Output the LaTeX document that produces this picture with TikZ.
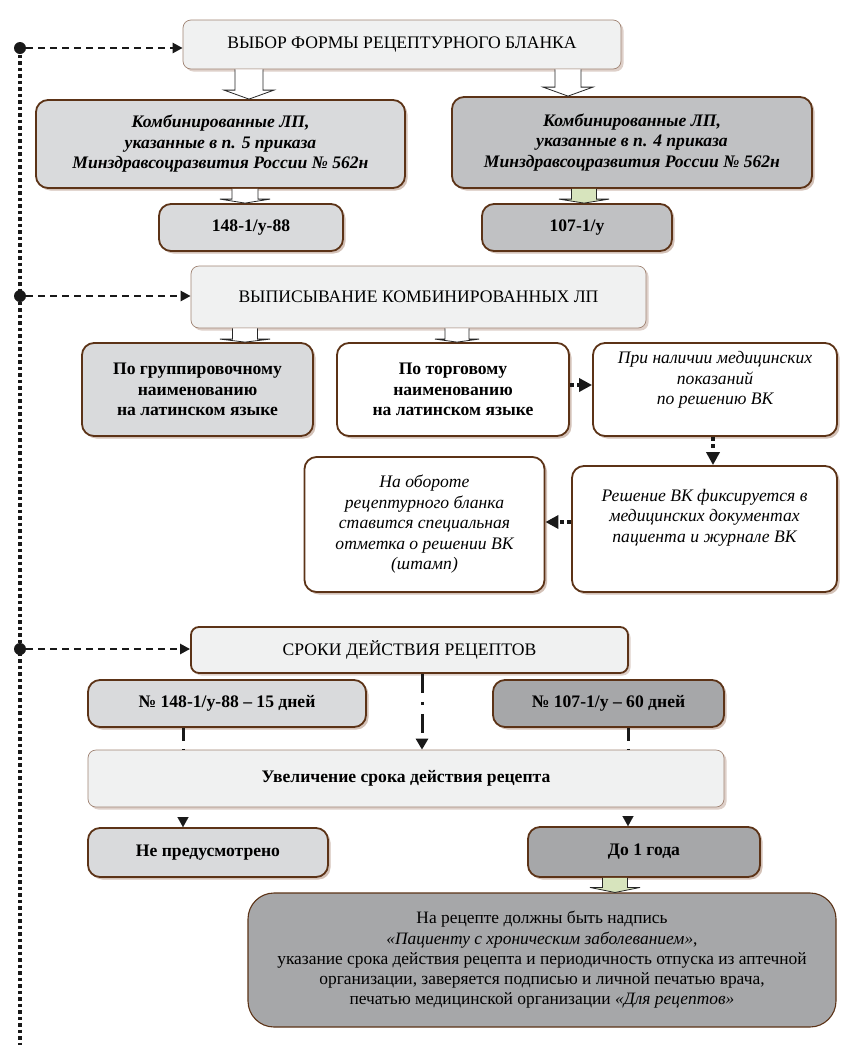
\documentclass[tikz,border=0pt]{standalone}
\usepackage{fontspec}
\setmainfont{Liberation Serif}
\usetikzlibrary{arrows.meta,shadows,calc}
\definecolor{brd}{HTML}{5C3317}
\definecolor{brdl}{HTML}{A08474}
\definecolor{hfill}{HTML}{F0F1F1}
\definecolor{lg}{HTML}{D9DADC}
\definecolor{mg}{HTML}{C0C1C3}
\definecolor{dg}{HTML}{A6A7A9}
\definecolor{grn}{HTML}{D7E4BD}
\definecolor{shd}{HTML}{C9B2A6}
\newcommand\blockarr[7]{%
  \draw[blockline, fill=#4] let \p1=(#2), \p2=(#3) in
    ({(#1-#5)*1pt},\y1) -- ({(#1-#5)*1pt},{\y2+#7pt}) -- ({(#1-#6)*1pt},{\y2+#7pt})
    -- ({#1*1pt},\y2) -- ({(#1+#6)*1pt},{\y2+#7pt}) -- ({(#1+#5)*1pt},{\y2+#7pt})
    -- ({(#1+#5)*1pt},\y1);}
\tikzset{
  base/.style={align=center, inner sep=0pt, font=\fontsize{17.6}{20.5}\selectfont},
  mainbox/.style={base, draw=brd, line width=1.8pt, rounded corners=12pt,
     drop shadow={shadow xshift=2.5pt, shadow yshift=-2.5pt, fill=shd, opacity=0.8}},
  headbox/.style={base, draw=brdl, line width=0.7pt, fill=hfill, rounded corners=8pt,
     font=\fontsize{17.6}{20}\selectfont,
     drop shadow={shadow xshift=2.5pt, shadow yshift=-2.5pt, fill=shd, opacity=0.6}},
  blockline/.style={draw=black!85, line width=0.8pt, line join=miter},
  dotline/.style={line width=3.5pt, dash pattern=on 3.5pt off 3pt, black!90},
  dashline/.style={line width=2.4pt, dash pattern=on 7pt off 5pt, black!90,
     -{Triangle[length=10pt,width=10pt]}},
  bigdot/.style={circle, fill=black!90, inner sep=0pt, minimum size=12pt},
  dotarr/.style={line width=4pt, dash pattern=on 4pt off 3.5pt, black!90,
     -{Triangle[length=13pt,width=13pt]}},
  dasharr/.style={line width=3pt, dash pattern=on 19pt off 9pt on 3pt off 9pt, black!90},
  tipdown/.style={black!90, line width=0.1pt, -{Triangle[length=10pt,width=11pt]}},
}
\begin{document}
\begin{tikzpicture}[x=1pt,y=-1pt]
\useasboundingbox[fill=white] (0,0) rectangle (866,1058);

% left dotted rail
\coordinate (railtop) at (20,48);
\coordinate (railbot) at (20,1045);
\draw[dotline] (railtop) -- (railbot);
\node[bigdot] (d1) at (20,48) {};
\node[bigdot] (d2) at (20,296) {};
\node[bigdot] (d3) at (20,649) {};

% section 1
\node[headbox, minimum width=438pt, minimum height=49pt] (h1) at (402,44.5)
  {ВЫБОР ФОРМЫ РЕЦЕПТУРНОГО БЛАНКА};
\node[mainbox, fill=lg, minimum width=369pt, minimum height=88pt] (b2l) at (220.5,144)
  {\bfseries\itshape Комбинированные ЛП,\\\bfseries\itshape указанные в п. 5 приказа\\\bfseries\itshape Минздравсоцразвития России № 562н};
\node[mainbox, fill=mg, minimum width=360pt, minimum height=91pt] (b2r) at (632,142.5)
  {\bfseries\itshape Комбинированные ЛП,\\\bfseries\itshape указанные в п. 4 приказа\\\bfseries\itshape Минздравсоцразвития России № 562н};
\node[mainbox, fill=lg, minimum width=184pt, minimum height=47pt] (f148) at (251,227.5)
  {\bfseries 148-1/у-88};
\node[mainbox, fill=mg, minimum width=190pt, minimum height=47pt] (f107) at (577,227.5)
  {\bfseries 107-1/у};

\blockarr{249}{h1.south}{b2l.north}{white}{14}{25}{9}
\blockarr{568}{h1.south}{b2r.north}{white}{13}{25}{9}
\blockarr{245}{b2l.south}{f148.north}{white}{13}{25}{4}
\blockarr{584}{b2r.south}{f107.north}{grn}{12.5}{25}{4}

% section 2
\node[headbox, minimum width=455pt, minimum height=62pt] (h2) at (418.5,297)
  {ВЫПИСЫВАНИЕ КОМБИНИРОВАННЫХ ЛП};
\node[mainbox, fill=lg, minimum width=231pt, minimum height=93pt] (g1) at (197.5,389.5)
  {\bfseries По группировочному\\\bfseries наименованию\\\bfseries на латинском языке};
\node[mainbox, fill=white, minimum width=232pt, minimum height=93pt] (g2) at (453,389.5)
  {\bfseries По торговому\\\bfseries наименованию\\\bfseries на латинском языке};
\node[mainbox, fill=white, minimum width=244pt, minimum height=93pt] (g3) at (715,389.5)
  {\itshape При наличии медицинских\\\itshape показаний\\\itshape по решению ВК\\[2pt]};
\node[mainbox, fill=white, minimum width=265pt, minimum height=126pt] (r1) at (704.5,529)
  {\itshape Решение ВК фиксируется в\\\itshape медицинских документах\\\itshape пациента и журнале ВК\\[6pt]};
\node[mainbox, fill=white, minimum width=240pt, minimum height=135pt] (r2) at (424.5,524.5)
  {\itshape На обороте\\\itshape рецептурного бланка\\\itshape ставится специальная\\\itshape отметка о решении ВК\\\itshape (штамп)};

\blockarr{245}{h2.south}{g1.north}{white}{12.5}{25}{3}
\blockarr{457}{h2.south}{g2.north}{white}{12}{22}{3}

\draw[dotarr] ([yshift=4.5pt]g2.east) -- ([yshift=4.5pt]g2.east -| g3.west);
\draw[dotarr] ([xshift=-2pt]g3.south) -- ([xshift=-2pt]g3.south |- r1.north);
\draw[dotarr] ([yshift=7pt]r1.west) -- ([yshift=7pt]r1.west -| r2.east);

% section 3
\node[headbox, draw=brd, line width=1.8pt, minimum width=437pt, minimum height=46pt] (h3) at (409.5,650)
  {СРОКИ ДЕЙСТВИЯ РЕЦЕПТОВ};
\node[mainbox, fill=lg, minimum width=278pt, minimum height=47pt] (s1) at (227,703.5)
  {\bfseries № 148-1/у-88 – 15 дней};
\node[mainbox, fill=dg, minimum width=231pt, minimum height=47pt] (s2) at (608.5,703.5)
  {\bfseries № 107-1/у – 60 дней};
\node[headbox, font=\fontsize{17.6}{20}\selectfont, minimum width=636pt, minimum height=57pt] (uv) at (406,778.5)
  {\bfseries Увеличение срока действия рецепта};
\node[mainbox, fill=lg, minimum width=240pt, minimum height=49pt] (ne) at (208,852.5)
  {\bfseries Не предусмотрено};
\node[mainbox, fill=dg, minimum width=232pt, minimum height=50pt] (do) at (644,852)
  {\bfseries До 1 года};
\node[base, draw=brd, line width=1.1pt, fill=dg, rounded corners=26pt, font=\fontsize{17.4}{20.3}\selectfont,
  minimum width=588pt, minimum height=134pt] (big) at (542,960)
  {На рецепте должны быть надпись\\\textit{«Пациенту с хроническим заболеванием»},\\указание срока действия рецепта и периодичность отпуска из аптечной\\организации, заверяется подписью и личной печатью врача,\\печатью медицинской организации \textit{«Для рецептов»}};

\draw[dasharr, -{Triangle[length=11pt,width=12pt]}] ([xshift=12.5pt]h3.south) -- ([xshift=12.5pt]h3.south |- uv.north);
\draw[dasharr, dash pattern=on 13pt off 8pt on 3pt off 9pt] ([xshift=-44pt]s1.south) -- ([xshift=-44pt]s1.south |- uv.north);
\draw[dasharr, dash pattern=on 13pt off 8pt on 3pt off 9pt] ([xshift=19.5pt]s2.south) -- ([xshift=19.5pt]s2.south |- uv.north);
\draw[tipdown, shorten <=11pt] ([xshift=-25pt]ne.north |- uv.south) -- ([xshift=-25pt]ne.north);
\draw[tipdown, shorten <=10pt] ([xshift=-16pt]do.north |- uv.south) -- ([xshift=-16pt]do.north);
\blockarr{615}{do.south}{big.north}{grn}{12.5}{25}{5}

% rail to headers
\draw[dashline] (d1) -- (d1 -| h1.west);
\draw[dashline] (d2) -- (d2 -| h2.west);
\draw[dashline] (d3) -- (d3 -| h3.west);
\end{tikzpicture}
\end{document}
